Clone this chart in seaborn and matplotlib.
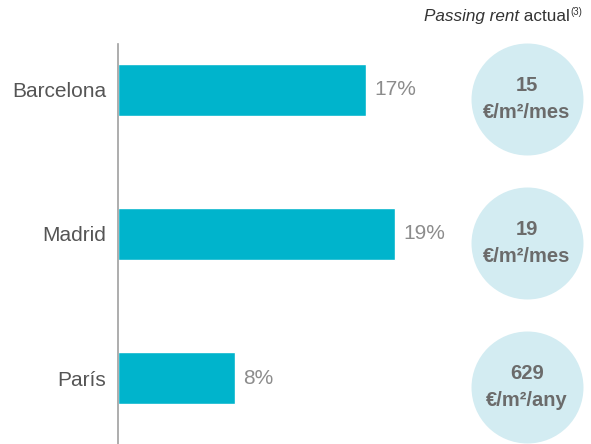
import matplotlib
matplotlib.use("Agg")
import matplotlib.pyplot as plt
import seaborn as sns
import pandas as pd

sns.set_style("white")
plt.rcParams['font.family'] = ['Liberation Sans', 'DejaVu Sans']

ciutats = ['Barcelona', 'Madrid', 'París']
percentatges = [17, 19, 8]
rent_valors = ['15', '19', '629']
rent_unitats = ['€/m²/mes', '€/m²/mes', '€/m²/any']

df = pd.DataFrame({'ciutat': ciutats, 'pct': percentatges})

color_barra = '#00b4cc'
color_cercle = '#d3ecf2'

fig = plt.figure(figsize=(5.91, 4.44), dpi=100)
ax = fig.add_axes([118 / 591, 0, 1 - 118 / 591, 1 - 44 / 444])

sns.barplot(data=df, x='pct', y='ciutat', orient='h', color=color_barra,
            saturation=1, width=0.36, ax=ax)

# escala: ~14.6 px per punt percentual
ax.set_xlim(0, 473 / 14.6)
ax.set_ylim(2.458, -0.319)

for sp in ['top', 'right', 'bottom']:
    ax.spines[sp].set_visible(False)
ax.spines['left'].set_color('#a0a0a0')
ax.spines['left'].set_linewidth(1.2)

ax.set_xticks([])
ax.set_xlabel('')
ax.set_ylabel('')
ax.tick_params(axis='y', length=0, pad=8.5, labelsize=15, labelcolor='#555555')

# etiquetes de percentatge
for i, v in enumerate(percentatges):
    ax.text(v + 0.55, i, f'{v}%', va='center', ha='left', fontsize=15,
            color='#8c8c8c')

# cercles amb el passing rent
x_cercle = (527 - 118) / 14.6
for i, (val, uni) in enumerate(zip(rent_valors, rent_unitats)):
    ax.scatter([x_cercle], [i + 0.06], s=6500, color=color_cercle,
               linewidths=0, clip_on=False, zorder=1)
    ax.text(x_cercle, i - 0.03, val, ha='center', va='center', fontsize=14.5,
            fontweight='bold', color='#6b6b6b', zorder=2)
    ax.text(x_cercle, i + 0.155, uni, ha='center', va='center', fontsize=14.5,
            fontweight='bold', color='#6b6b6b', zorder=2)

# titol de la columna
t1 = fig.text(424 / 591, 1 - 21 / 444, 'Passing rent', fontsize=12.3,
              style='italic', color='#333333', ha='left', va='baseline')
t2 = ax.annotate(' actual', xy=(1, 0), xycoords=t1, fontsize=12.3,
                 color='#333333', ha='left', va='bottom')
ax.annotate('(3)', xy=(1, 0.45), xycoords=t2, fontsize=7, color='#333333',
            ha='left', va='bottom', annotation_clip=False)

fig.savefig('out.png', dpi=100)
